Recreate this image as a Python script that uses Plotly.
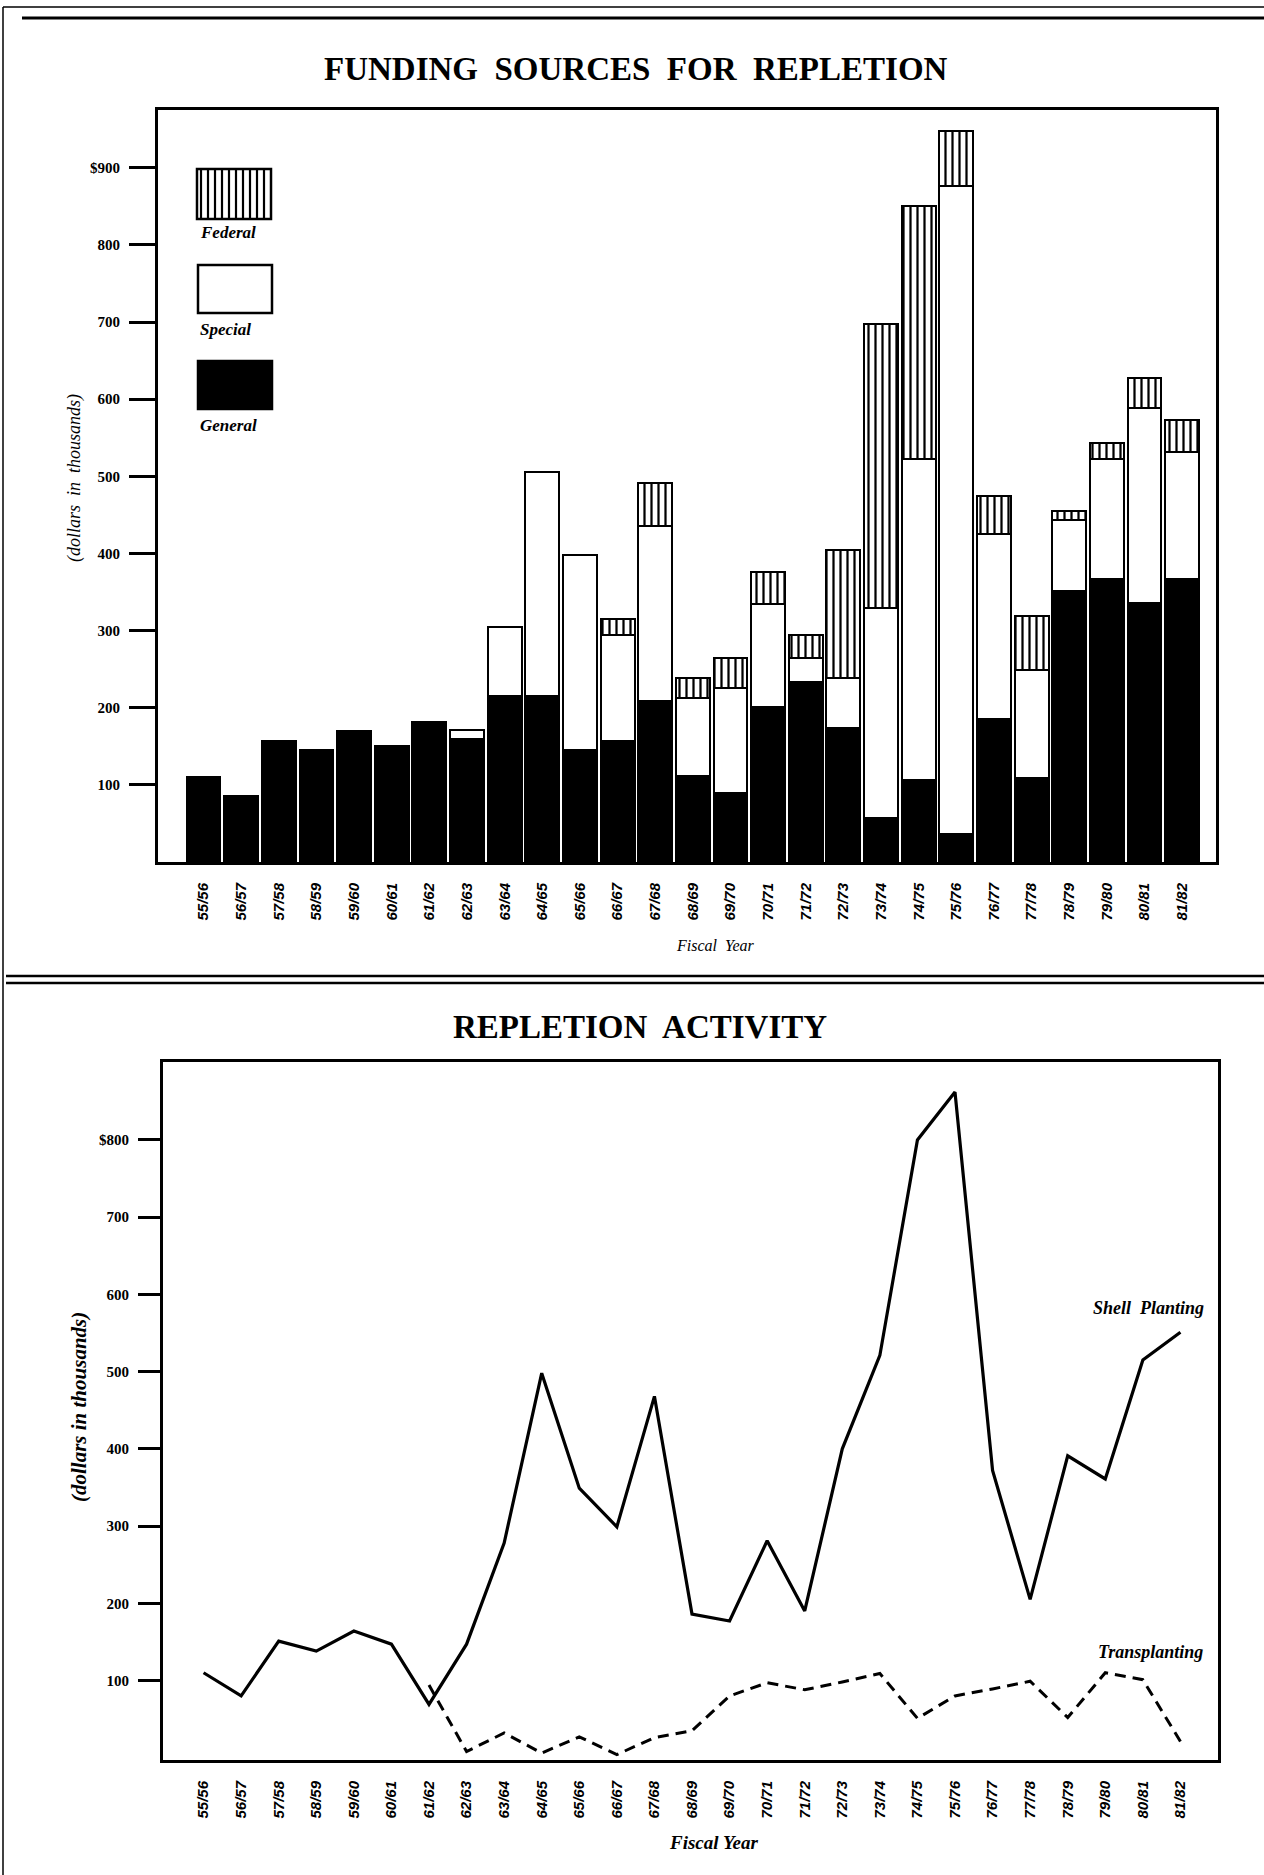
import plotly.graph_objects as go

# ---------------- data ----------------
years = ["55/56", "56/57", "57/58", "58/59", "59/60", "60/61", "61/62", "62/63",
         "63/64", "64/65", "65/66", "66/67", "67/68", "68/69", "69/70", "70/71",
         "71/72", "72/73", "73/74", "74/75", "75/76", "76/77", "77/78", "78/79",
         "79/80", "80/81", "81/82"]

general = [110, 86, 157, 145, 170, 150, 181, 160, 215, 215, 145, 157, 209, 111,
           89, 201, 233, 174, 57, 106, 36, 185, 109, 351, 367, 336, 367]
special = [0, 0, 0, 0, 0, 0, 0, 11, 90, 291, 253, 137, 226, 101,
           137, 133, 31, 64, 272, 416, 841, 240, 140, 92, 156, 252, 164]
federal = [0, 0, 0, 0, 0, 0, 0, 0, 0, 0, 0, 21, 56, 26,
           38, 42, 30, 166, 368, 328, 71, 49, 70, 12, 20, 39, 42]

shell_planting = [110, 80, 151, 138, 164, 147, 69, 147, 278, 498, 349, 299, 468, 186,
                  177, 281, 190, 400, 521, 800, 862, 372, 205, 391, 361, 515, 551]
transplanting = [None, None, None, None, None, None, 94, 8, 32, 6, 27, 4, 26, 35,
                 80, 97, 88, 98, 109, 51, 80, 89, 99, 52, 110, 101, 21]

top_ticks = [100, 200, 300, 400, 500, 600, 700, 800, 900]
top_ticktext = ["100", "200", "300", "400", "500", "600", "700", "800", "$900"]
bot_ticks = [100, 200, 300, 400, 500, 600, 700, 800]
bot_ticktext = ["100", "200", "300", "400", "500", "600", "700", "$800"]

# ---------------- geometry (pixels of the 1264x1875 page) ----------------
W, H = 1264, 1875
TOP = dict(x0=158, x1=1216, y0=110, y1=862)
BOT = dict(x0=163, x1=1218, y0=1062, y1=1760)


def px(x):
    return x / W


def py(y):
    return 1 - y / H


def nz(v):
    return [a if a else None for a in v]


SERIF = "Liberation Serif"
SANS = "Liberation Sans"

fig = go.Figure()

line_style = dict(color="black", width=2)
fig.add_trace(go.Bar(x=years, y=nz(general), name="General",
                     marker=dict(color="black", line=line_style),
                     xaxis="x", yaxis="y"))
fig.add_trace(go.Bar(x=years, y=nz(special), name="Special",
                     marker=dict(color="white", line=line_style),
                     xaxis="x", yaxis="y"))
fig.add_trace(go.Bar(x=years, y=nz(federal), name="Federal",
                     marker=dict(color="white", line=line_style,
                                 pattern=dict(shape="|", size=7, solidity=0.32,
                                              fgcolor="black", bgcolor="white",
                                              fillmode="replace")),
                     xaxis="x", yaxis="y"))

fig.add_trace(go.Scatter(x=years, y=shell_planting, mode="lines", name="Shell Planting",
                         line=dict(color="black", width=3.2),
                         xaxis="x2", yaxis="y2"))
fig.add_trace(go.Scatter(x=years, y=transplanting, mode="lines", name="Transplanting",
                         line=dict(color="black", width=3, dash="11px,7px"),
                         xaxis="x2", yaxis="y2"))

xtickfont = dict(family=SANS, size=15, color="black", weight="bold", style="italic")
ytickfont = dict(family=SERIF, size=15, color="black", weight="bold")

common_axis = dict(showline=True, mirror=True, linecolor="black", linewidth=3,
                   showgrid=False, zeroline=False)

fig.update_layout(
    width=W, height=H,
    margin=dict(l=0, r=0, t=0, b=0),
    paper_bgcolor="white", plot_bgcolor="white",
    showlegend=False,
    barmode="stack", bargap=0.1,
    xaxis=dict(domain=[px(TOP["x0"]), px(TOP["x1"])], anchor="y", type="category",
               range=[-1.21, 26.9], ticks="", tickangle=-90, tickfont=xtickfont,
               ticklabelstandoff=12, **common_axis),
    yaxis=dict(domain=[py(TOP["y1"]), py(TOP["y0"])], anchor="x", range=[0, 975],
               tickvals=top_ticks, ticktext=top_ticktext, ticks="outside",
               ticklen=26, tickwidth=2.5, tickcolor="black", tickfont=ytickfont,
               ticklabelstandoff=6, **common_axis),
    xaxis2=dict(domain=[px(BOT["x0"]), px(BOT["x1"])], anchor="y2", type="category",
                range=[-1.08, 27.0], ticks="", tickangle=-90, tickfont=xtickfont,
                ticklabelstandoff=12, **common_axis),
    yaxis2=dict(domain=[py(BOT["y1"]), py(BOT["y0"])], anchor="x2", range=[-3, 901],
                tickvals=bot_ticks, ticktext=bot_ticktext, ticks="outside",
                ticklen=22, tickwidth=2.5, tickcolor="black", tickfont=ytickfont,
                ticklabelstandoff=6, **common_axis),
)

# ---------------- text ----------------
ann = []


def text(x, y, s, size, weight="normal", style="normal", family=SERIF, angle=0,
         xanchor="center"):
    ann.append(dict(x=px(x), y=py(y), xref="paper", yref="paper", text=s,
                    showarrow=False, textangle=angle, xanchor=xanchor, yanchor="middle",
                    font=dict(family=family, size=size, color="black",
                              weight=weight, style=style)))


text(636, 69, "FUNDING  SOURCES  FOR  REPLETION", 33, weight="bold")
text(640, 1027, "REPLETION  ACTIVITY", 33, weight="bold")
text(74, 478, "(dollars  in  thousands)", 18, style="italic", angle=-90)
text(79, 1407, "(dollars in thousands)", 21, weight="bold", style="italic", angle=-90)
text(715, 945, "Fiscal  Year", 16, style="italic")
text(713, 1842, "Fiscal Year", 19, weight="bold", style="italic")
text(1148, 1308, "Shell  Planting", 18, weight="bold", style="italic")
text(1150, 1652, "Transplanting", 18, weight="bold", style="italic")

# legend labels (inside top plot)
text(198, 233, "Federal", 17, weight="bold", style="italic", xanchor="left")
text(198, 330, "Special", 17, weight="bold", style="italic", xanchor="left")
text(198, 425, "General", 17, weight="bold", style="italic", xanchor="left")

fig.update_layout(annotations=ann)

# ---------------- shapes: legend swatches, rules, border ----------------
shapes = []


def rect(x0, y0, x1, y1, fill, lw=2.5):
    shapes.append(dict(type="rect", xref="paper", yref="paper",
                       x0=px(x0), x1=px(x1), y0=py(y1), y1=py(y0),
                       fillcolor=fill, line=dict(color="black", width=lw)))


def hline(x0, x1, y, lw):
    shapes.append(dict(type="line", xref="paper", yref="paper",
                       x0=px(x0), x1=px(x1), y0=py(y), y1=py(y),
                       line=dict(color="black", width=lw)))


def vline(x, y0, y1, lw):
    shapes.append(dict(type="line", xref="paper", yref="paper",
                       x0=px(x), x1=px(x), y0=py(y0), y1=py(y1),
                       line=dict(color="black", width=lw)))


rect(197, 169, 271, 219, "white")
for k in range(10):
    vline(201 + 7 * k, 169, 219, 2.2)
rect(198, 265, 272, 313, "white")
rect(198, 361, 272, 409, "black")

# page rules and border
hline(3, W, 7, 1.5)
hline(22, W, 18, 3)
vline(3, 7, H, 1.5)
hline(6, W, 976, 2.5)
hline(6, W, 983, 2.5)

fig.update_layout(shapes=shapes)

fig.write_html("out.html", config={"displayModeBar": False},
               post_script="document.body.style.margin='0';")
